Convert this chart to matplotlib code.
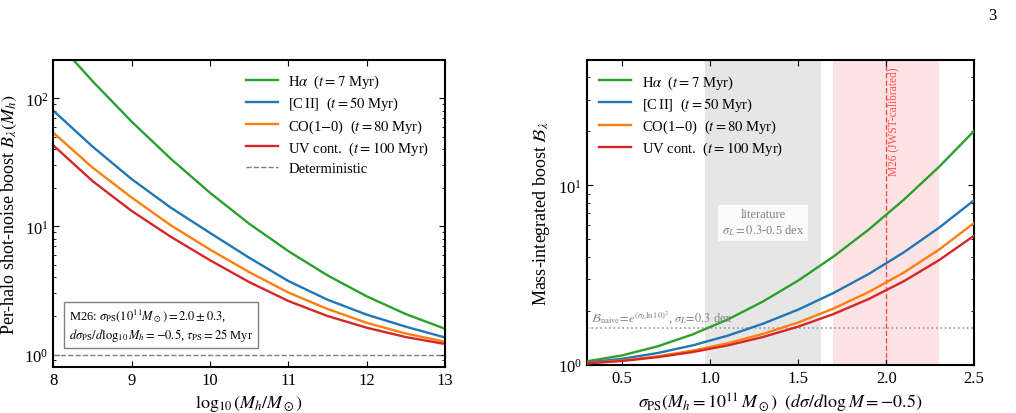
import numpy as np
import matplotlib
matplotlib.use("Agg")
import matplotlib.pyplot as plt

plt.rcParams['font.family'] = 'serif'
plt.rcParams['font.serif'] = ['Liberation Serif', 'DejaVu Serif']
plt.rcParams['mathtext.fontset'] = 'stix'

# ---- Left panel data: per-halo boost vs log10 halo mass ----
logM = [8.0, 8.5, 9.0, 9.5, 10.0, 10.5, 11.0, 11.5, 12.0, 12.5, 13.0]
B_halpha = [297, 136, 65.7, 33.7, 18.3, 10.5, 6.42, 4.15, 2.85, 2.07, 1.59]
B_cii = [80, 42, 23.4, 14.0, 8.9, 5.7, 3.75, 2.68, 2.05, 1.65, 1.36]
B_co = [53.8, 28.8, 16.8, 10.2, 6.6, 4.4, 3.05, 2.27, 1.77, 1.46, 1.26]
B_uv = [42.9, 22.6, 13.2, 8.3, 5.45, 3.68, 2.62, 2.0, 1.62, 1.37, 1.21]

# ---- Right panel data: mass-integrated boost vs sigma_PS ----
sigma_ps = [0.3, 0.5, 0.7, 0.9, 1.1, 1.3, 1.5, 1.7, 1.9, 2.1, 2.3, 2.5]
I_halpha = [1.044, 1.127, 1.265, 1.475, 1.787, 2.251, 2.945, 4.003, 5.658, 8.31, 12.67, 20.1]
I_cii = [1.027, 1.079, 1.161, 1.281, 1.452, 1.692, 2.028, 2.508, 3.201, 4.229, 5.797, 8.26]
I_co = [1.019, 1.056, 1.113, 1.198, 1.318, 1.485, 1.720, 2.054, 2.539, 3.262, 4.377, 6.17]
I_uv = [1.017, 1.049, 1.101, 1.176, 1.281, 1.427, 1.630, 1.914, 2.322, 2.919, 3.823, 5.24]

labels = [r'H$\alpha$  ($t = 7$ Myr)', r'[C$\,$II]  ($t = 50$ Myr)',
          r'CO(1$-$0)  ($t = 80$ Myr)', r'UV cont.  ($t = 100$ Myr)']
colors = ['#2ca02c', '#1f77b4', '#ff7f0e', '#d62728']

lit_band = (0.973, 1.629)
m26_band = (1.7, 2.3)
m26_center = 2.0
B_naive = 1.61

fig = plt.figure(figsize=(10.16, 4.14), dpi=100)
ax1 = fig.add_axes([0.0525, 0.1111, 0.3855, 0.7423])
ax2 = fig.add_axes([0.5778, 0.1167, 0.3810, 0.7360])

for ax in (ax1, ax2):
    ax.tick_params(which='both', direction='in', top=True, right=True, labelsize=12)
    ax.tick_params(which='major', length=4, width=0.8)
    ax.tick_params(which='minor', length=2, width=0.6)
    for s in ax.spines.values():
        s.set_linewidth(1.5)

# Left
for y, c, l in zip([B_halpha, B_cii, B_co, B_uv], colors, labels):
    ax1.plot(logM, y, color=c, lw=1.7, label=l)
ax1.axhline(1.0, color='gray', ls='--', lw=1.0, label='Deterministic')
ax1.set_yscale('log')
ax1.set_xlim(8, 13)
ax1.set_ylim(0.8, 200)
ax1.set_xticks([8, 9, 10, 11, 12, 13])
ax1.set_xlabel(r'$\log_{10}(M_h/M_\odot)$', fontsize=13)
ax1.set_ylabel(r'Per-halo shot-noise boost $B_\lambda(M_h)$', fontsize=13)
ax1.legend(loc='upper right', bbox_to_anchor=(0.99, 0.995), frameon=False, fontsize=10.5,
           handlelength=2.2, labelspacing=0.33, borderaxespad=0.4, handletextpad=0.7)
ax1.text(0.04, 0.138, "M26: $\\sigma_{\\rm PS}(10^{11}M_\\odot) = 2.0 \\pm 0.3$,\n"
         "$d\\sigma_{\\rm PS}/d\\log_{10}M_h = -0.5$, $\\tau_{\\rm PS} = 25$ Myr",
         transform=ax1.transAxes, fontsize=9.0, ha='left', va='center', linespacing=1.2,
         bbox=dict(boxstyle='square,pad=0.4', fc='white', ec='gray', lw=1.0))

# Right
ax2.axvspan(*lit_band, color='#e6e6e6', lw=0, zorder=0)
ax2.axvspan(*m26_band, color='#fde3e3', lw=0, zorder=0)
ax2.axvline(m26_center, color='#ff4d4d', ls='--', lw=1.0, zorder=1)
ax2.axhline(B_naive, color='#999999', ls=':', lw=1.2, zorder=1)
for y, c, l in zip([I_halpha, I_cii, I_co, I_uv], colors, labels):
    ax2.plot(sigma_ps, y, color=c, lw=1.7, label=l, zorder=3)
ax2.set_yscale('log')
ax2.set_xlim(0.3, 2.5)
ax2.set_ylim(1.0, 50)
ax2.set_xticks([0.5, 1.0, 1.5, 2.0, 2.5])
ax2.set_xlabel(r'$\sigma_{\rm PS}(M_h = 10^{11}\,M_\odot)\ \ (d\sigma/d\log M = -0.5)$', fontsize=13)
ax2.set_ylabel(r'Mass-integrated boost $\mathcal{B}_\lambda$', fontsize=13)
ax2.legend(loc='upper left', bbox_to_anchor=(0.0, 0.995), frameon=False, fontsize=10.5,
           handlelength=2.2, labelspacing=0.33, borderaxespad=0.4, handletextpad=0.8)
ax2.text(1.3, 6.2, "literature\n$\\sigma_L = 0.3$-0.5 dex", color='gray', fontsize=9,
         ha='center', va='center', zorder=4,
         bbox=dict(boxstyle='square,pad=0.3', fc='white', ec='none', alpha=0.85))
ax2.text(2.008, 46, 'M26 (JWST-calibrated)', color='#ff4d4d', fontsize=8.3,
         rotation=90, ha='left', va='top', zorder=4)
ax2.text(0.32, 1.66, r'$\mathcal{B}_{\rm naive}\!=\!e^{(\sigma_L \ln 10)^2}$, $\sigma_L\!=\!0.3$ dex',
         color='gray', fontsize=8.8, ha='left', va='bottom', zorder=4)

fig.text(0.977, 0.962, '3', fontsize=12, ha='center', va='center')

fig.savefig('out.png', dpi=100)
